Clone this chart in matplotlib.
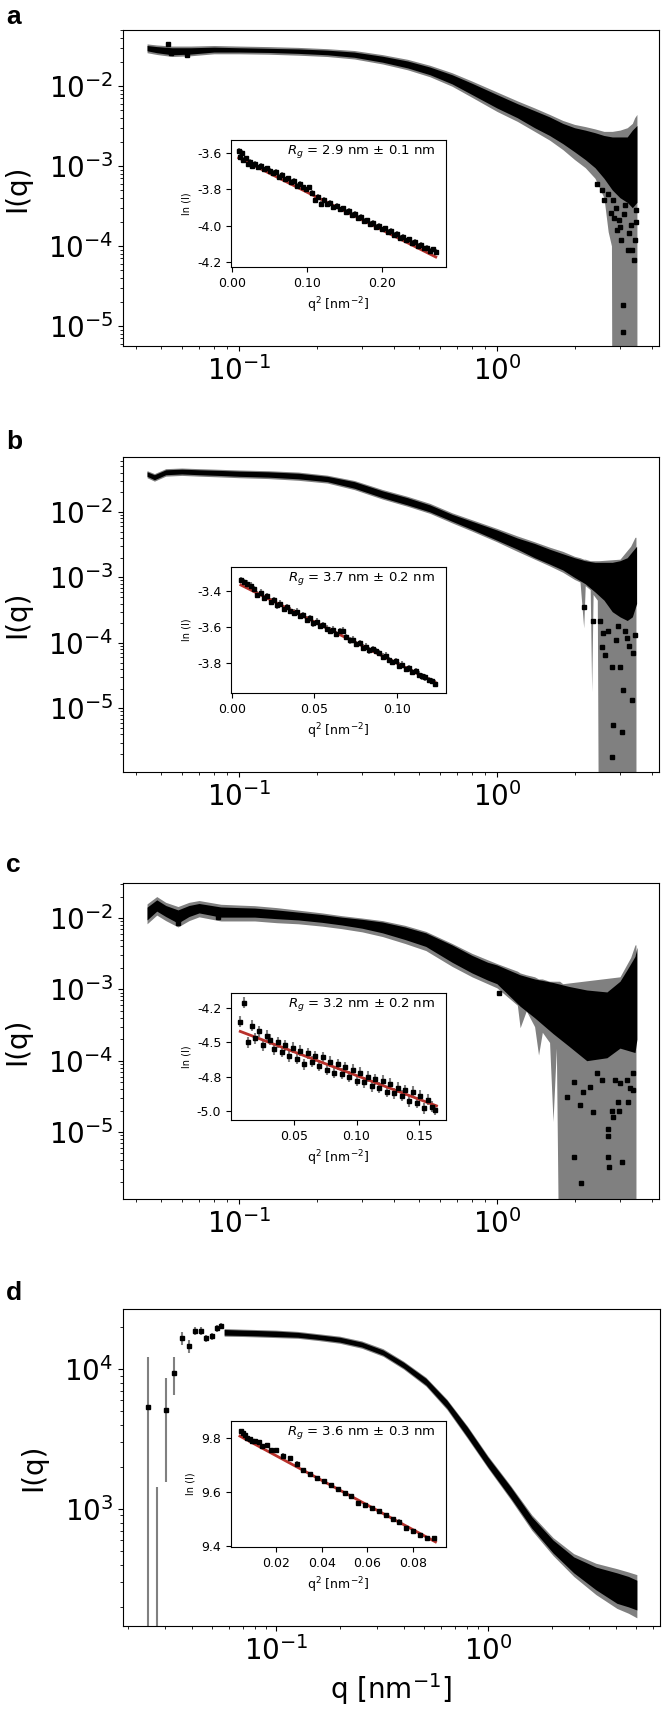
import matplotlib
matplotlib.use("Agg")
import matplotlib.pyplot as plt
from matplotlib.ticker import FormatStrFormatter

plt.rcParams['axes.unicode_minus'] = False

# ---------------- panel a ----------------
qa = [0.044, 0.048, 0.055, 0.065, 0.08, 0.1, 0.13, 0.17, 0.22, 0.28, 0.36, 0.45, 0.55, 0.67,
      0.8, 1.0, 1.2, 1.4, 1.6, 1.8, 2.0, 2.2, 2.4, 2.6, 2.8, 3.0, 3.2, 3.35, 3.49]
qa_top = [0.032, 0.031, 0.030, 0.030, 0.0305, 0.030, 0.0295, 0.029, 0.028, 0.0265, 0.0235, 0.0205,
          0.0172, 0.0138, 0.0108, 0.0078, 0.0060, 0.0049, 0.0041, 0.0034, 0.0030, 0.0028, 0.0026,
          0.0024, 0.0023, 0.0023, 0.0023, 0.0028, 0.0032]
qa_bot = [0.0275, 0.026, 0.0245, 0.025, 0.0265, 0.0265, 0.0262, 0.0255, 0.0245, 0.0228, 0.0198,
          0.0168, 0.0138, 0.0106, 0.0078, 0.0053, 0.0040, 0.0030, 0.0024, 0.0019, 0.0015, 0.0012,
          0.00095, 0.0007, 0.0005, 0.0004, 0.00035, 0.0003, 0.00035]
ga_q = [0.044, 0.048, 0.055, 0.065, 0.08, 0.1, 0.13, 0.17, 0.22, 0.28, 0.36, 0.45, 0.55, 0.67,
        0.8, 1.0, 1.2, 1.4, 1.6, 1.8, 2.0, 2.2, 2.4, 2.6, 2.7, 2.78, 2.8, 3.0, 3.2, 3.35, 3.42, 3.49]
ga_hi = [0.0335, 0.0325, 0.0315, 0.0315, 0.032, 0.0315, 0.031, 0.0303, 0.0292, 0.0277, 0.0246,
         0.0215, 0.0181, 0.0146, 0.0115, 0.0084, 0.0065, 0.0053, 0.0044, 0.0037, 0.0033, 0.0031,
         0.0029, 0.0027, 0.0027, 0.0027, 0.0027, 0.0028, 0.0030, 0.0034, 0.0040, 0.0044]
ga_lo = [0.026, 0.0247, 0.0233, 0.0238, 0.0252, 0.0252, 0.0249, 0.0242, 0.0233, 0.0217, 0.0188,
         0.0159, 0.0130, 0.0099, 0.0072, 0.0048, 0.0036, 0.0027, 0.0021, 0.0016, 0.0012, 0.00095,
         0.0007, 0.0004, 0.00015, 0.0001, 1e-8, 1e-8, 1e-8, 1e-8, 1e-8, 1e-8]
pa_q = [0.053, 0.0543, 0.063, 2.60, 2.77, 2.92, 3.03, 3.22, 3.39, 3.08, 3.08, 3.25, 2.81, 3.45,
        3.33, 2.97, 2.45, 2.55, 2.70, 2.90, 3.10, 3.15, 3.30, 3.42, 3.35, 3.46, 3.00, 2.85]
pa_i = [0.0335, 0.0257, 0.0245, 3.8e-4, 2.6e-4, 1.6e-4, 1.2e-4, 8.9e-5, 6.7e-5, 1.8e-5, 8.5e-6,
        1.45e-4, 3.8e-4, 2.8e-4, 5.5e-4, 2.1e-4, 6.0e-4, 5.0e-4, 4.5e-4, 3.0e-4, 2.5e-4, 3.2e-4,
        1.8e-4, 1.2e-4, 9.0e-5, 2.0e-4, 1.7e-4, 2.2e-4]

ia_x = [0.009, 0.011, 0.013, 0.015, 0.018, 0.021, 0.024, 0.027, 0.031, 0.035, 0.039, 0.043,
        0.047, 0.051, 0.055, 0.059, 0.063, 0.067, 0.071, 0.075, 0.079, 0.083, 0.087, 0.091,
        0.095, 0.099, 0.103, 0.107, 0.111, 0.115, 0.119, 0.123, 0.127, 0.131, 0.135, 0.139,
        0.143, 0.147, 0.151, 0.155, 0.159, 0.163, 0.167, 0.171, 0.175, 0.179, 0.183, 0.187,
        0.191, 0.195, 0.199, 0.203, 0.207, 0.211, 0.215, 0.219, 0.223, 0.227, 0.231, 0.235,
        0.239, 0.243, 0.247, 0.251, 0.255, 0.259, 0.263, 0.267, 0.271]
ia_y = [-3.59, -3.62, -3.60, -3.64, -3.63, -3.66, -3.65, -3.67, -3.66, -3.68, -3.67, -3.69,
        -3.685, -3.70, -3.71, -3.705, -3.73, -3.72, -3.745, -3.74, -3.76, -3.755, -3.78, -3.77,
        -3.79, -3.80, -3.79, -3.82, -3.86, -3.84, -3.88, -3.86, -3.88, -3.875, -3.895, -3.89,
        -3.91, -3.905, -3.925, -3.92, -3.94, -3.935, -3.955, -3.95, -3.975, -3.97, -3.99, -3.985,
        -4.005, -4.00, -4.02, -4.015, -4.035, -4.03, -4.05, -4.045, -4.065, -4.06, -4.08, -4.075,
        -4.095, -4.09, -4.11, -4.105, -4.125, -4.12, -4.14, -4.13, -4.145]
ia_err = 0.015
fit_a_x = [0.009, 0.271]
fit_a_y = [-3.627, -4.172]

# ---------------- panel b ----------------
qb = [0.044, 0.047, 0.052, 0.06, 0.07, 0.085, 0.1, 0.13, 0.17, 0.22, 0.28, 0.36, 0.45, 0.55,
      0.67, 0.8, 1.0, 1.2, 1.4, 1.6, 1.8, 2.0, 2.2, 2.4, 2.6, 2.8, 3.0, 3.2, 3.35, 3.48]
qb_top = [0.041, 0.037, 0.044, 0.045, 0.044, 0.043, 0.042, 0.041, 0.039, 0.035, 0.029, 0.021,
          0.0165, 0.0128, 0.0092, 0.0072, 0.0053, 0.0040, 0.0033, 0.0027, 0.0023, 0.0020, 0.0018,
          0.0017, 0.0017, 0.0017, 0.0018, 0.0020, 0.0025, 0.0030]
qb_bot = [0.035, 0.031, 0.037, 0.038, 0.037, 0.036, 0.035, 0.034, 0.032, 0.029, 0.023, 0.0165,
          0.0128, 0.0100, 0.0072, 0.0054, 0.0037, 0.0027, 0.0020, 0.0016, 0.0013, 0.0010, 0.0008,
          0.0006, 0.00045, 0.0003, 0.00025, 0.00022, 0.00025, 0.0004]
gb_q = [0.044, 0.047, 0.052, 0.06, 0.07, 0.085, 0.1, 0.13, 0.17, 0.22, 0.28, 0.36, 0.45, 0.55,
        0.67, 0.8, 1.0, 1.2, 1.4, 1.6, 1.8, 2.0, 2.1, 2.17, 2.2, 2.3, 2.33, 2.36, 2.45, 2.48,
        3.0, 3.3, 3.43, 3.46]
gb_hi = [0.0427, 0.0385, 0.0458, 0.0468, 0.0458, 0.0447, 0.0437, 0.0426, 0.0406, 0.0364, 0.0302,
         0.0220, 0.0173, 0.0135, 0.0097, 0.0076, 0.0056, 0.0043, 0.0035, 0.0029, 0.0025, 0.0021,
         0.0020, 0.0019, 0.0019, 0.0018, 0.0018, 0.0018, 0.0018, 0.0018, 0.0019, 0.0030, 0.0041,
         0.0041]
gb_lo = [0.0333, 0.0295, 0.0352, 0.0361, 0.0352, 0.0342, 0.0333, 0.0323, 0.0304, 0.0276, 0.0219,
         0.0157, 0.0122, 0.0095, 0.0068, 0.0051, 0.0035, 0.0025, 0.0019, 0.0015, 0.0012, 0.00093,
         0.00085, 0.00017, 0.00075, 0.00065, 1.8e-5, 0.00055, 0.00045, 1e-8, 1e-8, 1e-8, 1e-8,
         1e-8]
pb_q = [2.58, 2.62, 2.79, 3.0, 3.08, 2.81, 3.05, 2.79, 3.33, 3.37, 2.55, 2.36, 2.17, 2.70,
        2.90, 3.15, 3.25, 3.42, 2.50, 2.95, 3.20]
pb_i = [1.4e-4, 6.6e-5, 4.3e-5, 4.3e-5, 1.9e-5, 5.6e-6, 4.4e-6, 1.8e-6, 1.35e-5, 7.1e-5, 8.7e-5,
        2.2e-4, 3.5e-4, 1.5e-4, 1.1e-4, 1.5e-4, 9.0e-5, 1.3e-4, 2.2e-4, 1.8e-4, 1.2e-4]

ib_x = [0.0055, 0.0075, 0.0095, 0.0115, 0.0135, 0.0155, 0.0175, 0.0195, 0.0215, 0.0235, 0.0255,
        0.0275, 0.0295, 0.0315, 0.0335, 0.0355, 0.0375, 0.0395, 0.0415, 0.0435, 0.0455, 0.0475,
        0.0495, 0.0515, 0.0535, 0.0555, 0.0575, 0.0595, 0.0615, 0.0635, 0.0655, 0.0675, 0.0695,
        0.0715, 0.0735, 0.0755, 0.0775, 0.0795, 0.0815, 0.0835, 0.0855, 0.0875, 0.0895, 0.0915,
        0.0935, 0.0955, 0.0975, 0.0995, 0.1015, 0.1035, 0.1055, 0.1075, 0.1095, 0.1115, 0.1135,
        0.1155, 0.1175, 0.1195, 0.1215, 0.1235]
ib_y = [-3.34, -3.35, -3.36, -3.37, -3.39, -3.42, -3.41, -3.44, -3.43, -3.46, -3.45, -3.48,
        -3.47, -3.50, -3.49, -3.51, -3.52, -3.515, -3.54, -3.535, -3.56, -3.55, -3.58, -3.57,
        -3.595, -3.59, -3.61, -3.62, -3.615, -3.64, -3.625, -3.62, -3.655, -3.675, -3.67, -3.695,
        -3.69, -3.715, -3.71, -3.73, -3.725, -3.735, -3.745, -3.765, -3.76, -3.785, -3.795, -3.79,
        -3.815, -3.81, -3.835, -3.83, -3.85, -3.845, -3.865, -3.875, -3.88, -3.895, -3.90, -3.915]
ib_err = 0.018
fit_b_x = [0.0055, 0.124]
fit_b_y = [-3.367, -3.911]

# ---------------- panel c ----------------
qc = [0.044, 0.048, 0.052, 0.058, 0.064, 0.07, 0.085, 0.1, 0.115, 0.14, 0.17, 0.21, 0.25, 0.3,
      0.36, 0.44, 0.53, 0.67, 0.8, 0.92, 1.0, 1.23, 1.4, 1.65, 1.9, 2.23, 2.67, 3.0, 3.2, 3.43, 3.49]
qc_top = [0.0142, 0.018, 0.0150, 0.013, 0.0150, 0.016, 0.0143, 0.0140, 0.0138, 0.0130, 0.0121,
          0.0112, 0.0103, 0.0096, 0.0088, 0.0075, 0.0062, 0.0042, 0.0030, 0.0024, 0.0022, 0.0016,
          0.0014, 0.00125, 0.0011, 0.00098, 0.00092, 0.0013, 0.0019, 0.0029, 0.0039]
qc_bot = [0.0094, 0.0125, 0.0105, 0.0085, 0.0105, 0.0118, 0.0103, 0.0103, 0.0103, 0.0098,
          0.0094, 0.0087, 0.0080, 0.0072, 0.0062, 0.0050, 0.0040, 0.0024, 0.0017, 0.00135,
          0.0012, 0.00058, 0.0004, 0.00024, 0.00016, 0.00010, 0.00011, 0.00015, 0.00014,
          0.00013, 0.0002]
gc_q = [0.044, 0.048, 0.052, 0.058, 0.064, 0.07, 0.085, 0.1, 0.115, 0.14, 0.17, 0.21, 0.25, 0.3,
        0.36, 0.44, 0.53, 0.67, 0.8, 0.92, 1.0, 1.2, 1.23, 1.3, 1.4, 1.45, 1.5, 1.6, 1.65, 1.7,
        1.75, 1.8, 3.0, 3.3, 3.43, 3.46]
gc_hi = [0.0158, 0.020, 0.0166, 0.0145, 0.0166, 0.0176, 0.0156, 0.0152, 0.0149, 0.0140, 0.0129,
         0.0118, 0.0108, 0.0100, 0.0092, 0.0079, 0.0065, 0.0044, 0.0032, 0.0026, 0.0023, 0.0018,
         0.0017, 0.0016, 0.0015, 0.0014, 0.0014, 0.0013, 0.0013, 0.0013, 0.0013, 0.0012, 0.0015,
         0.0028, 0.0042, 0.0042]
gc_lo = [0.0083, 0.0110, 0.0092, 0.0075, 0.0092, 0.0104, 0.0091, 0.0091, 0.0091, 0.0086, 0.0083,
         0.0077, 0.0071, 0.0064, 0.0055, 0.0044, 0.0035, 0.0021, 0.0015, 0.0012, 0.00105, 0.0006,
         0.00029, 0.0005, 0.0003, 0.00012, 0.00025, 0.00018, 1.4e-5, 0.00015, 1e-8, 1e-8, 1e-8,
         1e-8, 1e-8, 1e-8]
pc_q = [0.058, 0.083, 1.02, 1.87, 1.99, 2.10, 2.36, 1.99, 2.12, 2.69, 2.72, 3.05, 2.69, 2.69,
        2.81, 2.97, 3.22, 3.27, 3.0, 2.15, 2.29, 2.44, 2.55, 2.86, 3.19, 3.37, 3.37, 2.79, 2.94]
pc_i = [0.0085, 0.0103, 8.9e-4, 3.1e-5, 5.0e-5, 2.4e-5, 1.9e-5, 4.5e-6, 1.9e-6, 4.5e-6, 3.2e-6,
        3.8e-6, 1.1e-5, 8.7e-6, 1.6e-5, 2.0e-5, 2.6e-5, 4.2e-5, 4.9e-5, 3.6e-5, 4.3e-5, 6.8e-5,
        5.4e-5, 5.4e-5, 5.4e-5, 6.8e-5, 3.9e-5, 2.0e-5, 2.6e-5]

ic_x = [0.007, 0.010, 0.013, 0.016, 0.019, 0.022, 0.025, 0.028, 0.031, 0.034, 0.037, 0.040,
        0.043, 0.046, 0.049, 0.052, 0.055, 0.058, 0.061, 0.064, 0.067, 0.070, 0.073, 0.076,
        0.079, 0.082, 0.085, 0.088, 0.091, 0.094, 0.097, 0.100, 0.103, 0.106, 0.109, 0.112,
        0.115, 0.118, 0.121, 0.124, 0.127, 0.130, 0.133, 0.136, 0.139, 0.142, 0.145, 0.148,
        0.151, 0.154, 0.157, 0.160, 0.163]
ic_y = [-4.35, -4.21, -4.50, -4.38, -4.47, -4.42, -4.52, -4.45, -4.48, -4.55, -4.50, -4.57,
        -4.52, -4.60, -4.54, -4.62, -4.56, -4.66, -4.58, -4.64, -4.60, -4.67, -4.61, -4.70,
        -4.64, -4.72, -4.66, -4.73, -4.68, -4.75, -4.70, -4.78, -4.72, -4.79, -4.75, -4.82,
        -4.77, -4.83, -4.78, -4.86, -4.80, -4.87, -4.83, -4.89, -4.85, -4.93, -4.86, -4.94,
        -4.89, -4.98, -4.92, -4.97, -4.99]
ic_err = 0.04
fit_c_x = [0.007, 0.164]
fit_c_y = [-4.42, -4.963]

# ---------------- panel d ----------------
qd = [0.057, 0.07, 0.08, 0.1, 0.127, 0.159, 0.2, 0.254, 0.32, 0.40, 0.51, 0.64, 0.80, 1.0,
      1.28, 1.61, 2.03, 2.54, 3.23, 4.06, 4.6, 5.04]
qd_top = [19200, 19000, 18900, 18700, 18300, 17600, 16900, 15600, 13700, 11200, 8600, 6000,
          3850, 2350, 1440, 880, 600, 455, 385, 350, 330, 310]
qd_bot = [17500, 17400, 17300, 17100, 16900, 16300, 15600, 14400, 12600, 10200, 7700, 5270,
          3270, 2000, 1200, 730, 485, 350, 265, 212, 200, 190]
gd_hi = [19500, 19300, 19200, 19000, 18600, 17900, 17200, 15900, 14000, 11400, 8750, 6100,
         3920, 2400, 1470, 910, 625, 480, 410, 375, 355, 340]
gd_lo = [17200, 17100, 17000, 16800, 16600, 16000, 15300, 14100, 12350, 10000, 7550, 5150,
         3200, 1960, 1170, 705, 465, 330, 245, 195, 180, 167]
pd_q = [0.0249, 0.0275, 0.0303, 0.0330, 0.0360, 0.0389, 0.0417, 0.0444, 0.0468, 0.0497, 0.0530, 0.0550]
pd_i = [5350, 60, 5090, 9360, 16600, 14600, 18700, 18700, 16600, 17200, 19600, 20300]
pd_lo = [1, 1, 1560, 6520, 14900, 13000, 17500, 17500, 15600, 16200, 18500, 19300]
pd_hi = [12200, 1435, 8630, 12200, 18300, 16100, 19900, 19900, 17600, 18200, 20700, 21300]

id_x = [0.0045, 0.0055, 0.0065, 0.0075, 0.0085, 0.0095, 0.011, 0.0125, 0.014, 0.016, 0.018,
        0.020, 0.023, 0.026, 0.029, 0.032, 0.035, 0.038, 0.041, 0.044, 0.047, 0.050, 0.053,
        0.056, 0.059, 0.062, 0.065, 0.068, 0.071, 0.074, 0.077, 0.080, 0.083, 0.086, 0.089]
id_y = [9.825, 9.82, 9.81, 9.80, 9.795, 9.79, 9.79, 9.785, 9.77, 9.775, 9.755, 9.755, 9.735,
        9.725, 9.705, 9.68, 9.665, 9.65, 9.64, 9.625, 9.61, 9.595, 9.585, 9.56, 9.55, 9.54,
        9.53, 9.515, 9.50, 9.49, 9.465, 9.455, 9.44, 9.43, 9.43]
id_err = 0.008
fit_d_x = [0.0042, 0.0898]
fit_d_y = [9.807, 9.415]

rg_texts = [r'$R_g$ = 2.9 nm $\pm$ 0.1 nm', r'$R_g$ = 3.7 nm $\pm$ 0.2 nm',
            r'$R_g$ = 3.2 nm $\pm$ 0.2 nm', r'$R_g$ = 3.6 nm $\pm$ 0.3 nm']

W, H = 666, 1711
GRAY = '0.5'
RED = '#b8312b'


def rect(left, top, right, bottom):
    return [left / W, 1 - bottom / H, (right - left) / W, (bottom - top) / H]


def draw_main(ax, q, top, bot, gq, ghi, glo, pq, pi, xlim, ylim):
    ax.set_xscale('log')
    ax.set_yscale('log')
    ax.fill_between(gq, glo, ghi, color=GRAY, lw=0)
    ax.fill_between(q, bot, top, color='black', lw=0)
    ax.plot(pq, pi, 's', color='black', ms=3.5)
    ax.set_xlim(*xlim)
    ax.set_ylim(*ylim)
    ax.tick_params(labelsize=20)
    ax.set_ylabel('I(q)', fontsize=20, labelpad=12)


def draw_inset(ax, x, y, err, fx, fy, xlim, ylim, xt, yt, xfmt, txt):
    ax.errorbar(x, y, yerr=err, fmt='s', color='black', ecolor=GRAY, ms=3.2,
                elinewidth=1.5, capsize=0)
    ax.plot(fx, fy, color=RED, lw=2)
    ax.set_xlim(*xlim)
    ax.set_ylim(*ylim)
    ax.set_xticks(xt)
    ax.set_yticks(yt)
    ax.xaxis.set_major_formatter(FormatStrFormatter(xfmt))
    ax.yaxis.set_major_formatter(FormatStrFormatter('%.1f'))
    ax.tick_params(labelsize=9)
    ax.set_xlabel(r'q$^2$ [nm$^{-2}$]', fontsize=9)
    ax.set_ylabel('ln (I)', fontsize=7)
    ax.text(0.95, 0.91, txt, transform=ax.transAxes, ha='right', va='center', fontsize=9.5)


fig = plt.figure(figsize=(W / 100, H / 100), dpi=100)

ax_a = fig.add_axes(rect(123, 30, 659, 346))
draw_main(ax_a, qa, qa_top, qa_bot, ga_q, ga_hi, ga_lo, pa_q, pa_i, (0.0355, 4.25), (5.6e-6, 0.050))
ax_b = fig.add_axes(rect(123, 457, 659, 772))
draw_main(ax_b, qb, qb_top, qb_bot, gb_q, gb_hi, gb_lo, pb_q, pb_i, (0.0355, 4.25), (1.07e-6, 0.069))
ax_c = fig.add_axes(rect(123, 883, 659, 1199))
draw_main(ax_c, qc, qc_top, qc_bot, gc_q, gc_hi, gc_lo, pc_q, pc_i, (0.0355, 4.25), (1.15e-6, 0.031))
ax_d = fig.add_axes(rect(123, 1309, 660, 1626))
draw_main(ax_d, qd, qd_top, qd_bot, qd, gd_hi, gd_lo, [], [], (0.019, 6.48), (146, 26900))
pd_err = [[i - lo for i, lo in zip(pd_i, pd_lo)], [hi - i for i, hi in zip(pd_i, pd_hi)]]
ax_d.errorbar(pd_q, pd_i, yerr=pd_err, fmt='s', color='black', ecolor=GRAY, ms=3.5,
              elinewidth=1.5, capsize=0)
ax_d.set_xlabel(r'q [nm$^{-1}$]', fontsize=20)

in_a = fig.add_axes(rect(231, 140, 446, 267))
draw_inset(in_a, ia_x, ia_y, ia_err, fit_a_x, fit_a_y, (-0.0013, 0.2846), (-4.227, -3.529),
           [0.0, 0.1, 0.2], [-3.6, -3.8, -4.0, -4.2], '%.2f', rg_texts[0])
in_b = fig.add_axes(rect(231, 567, 446, 693))
draw_inset(in_b, ib_x, ib_y, ib_err, fit_b_x, fit_b_y, (-0.0005, 0.130), (-3.967, -3.267),
           [0.0, 0.05, 0.10], [-3.4, -3.6, -3.8], '%.2f', rg_texts[1])
in_c = fig.add_axes(rect(231, 993, 446, 1120))
draw_inset(in_c, ic_x, ic_y, ic_err, fit_c_x, fit_c_y, (-0.0004, 0.1716), (-5.066, -4.14),
           [0.05, 0.10, 0.15], [-4.25, -4.5, -4.75, -5.0], '%.2f', rg_texts[2])
in_d = fig.add_axes(rect(231, 1421, 446, 1547))
draw_inset(in_d, id_x, id_y, id_err, fit_d_x, fit_d_y, (0.0003, 0.0944), (9.396, 9.863),
           [0.02, 0.04, 0.06, 0.08], [9.4, 9.6, 9.8], '%.2f', rg_texts[3])

for letter, ypx in zip(['a', 'b', 'c', 'd'], [17, 442, 865, 1293]):
    fig.text(6 / W, 1 - ypx / H, letter, fontsize=19, fontweight='bold',
             family='Liberation Sans', ha='left', va='center')

fig.savefig('out.png', dpi=100)
